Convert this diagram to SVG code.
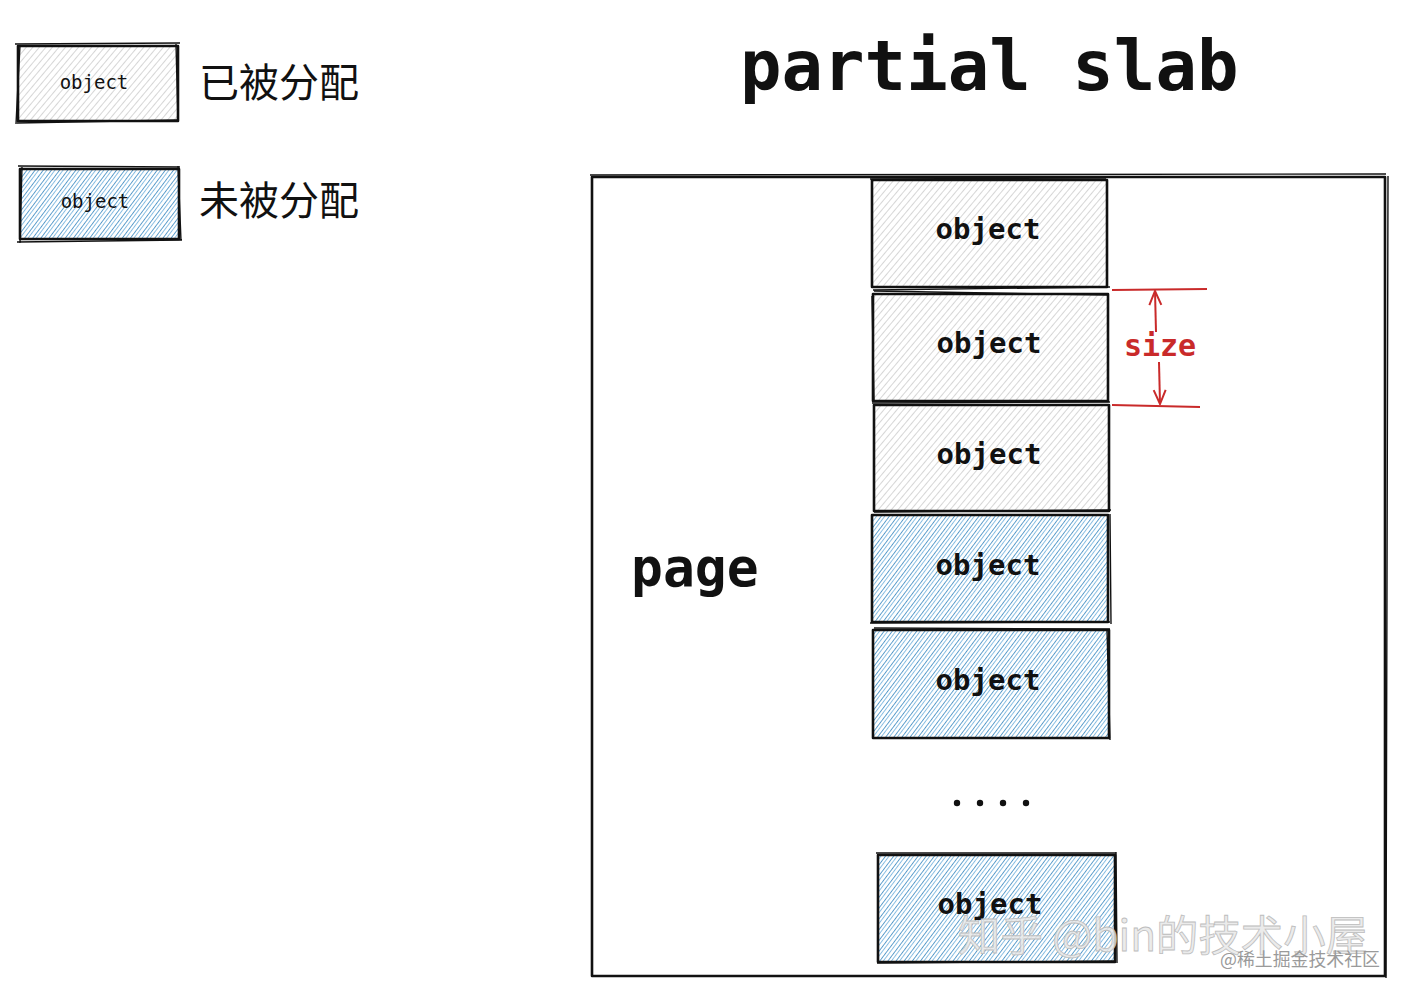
<svg xmlns="http://www.w3.org/2000/svg" width="1406" height="996" viewBox="0 0 1406 996">
<defs>
<pattern id="hg" width="5" height="5" patternUnits="userSpaceOnUse" patternTransform="rotate(40)">
<line x1="0" y1="0" x2="0" y2="5" stroke="#b4b4b4" stroke-width="1.1"/>
</pattern>
<pattern id="hb" width="6.5" height="6.5" patternUnits="userSpaceOnUse" patternTransform="rotate(37)">
<line x1="0" y1="0" x2="0" y2="6.5" stroke="#2f82bd" stroke-width="1.5"/>
<line x1="3.3" y1="0" x2="3.3" y2="6.5" stroke="#7db8e0" stroke-width="0.9"/>
</pattern>
<marker id="ar" viewBox="0 0 16 16" refX="15" refY="8" markerWidth="16" markerHeight="16" orient="auto" markerUnits="userSpaceOnUse">
<path d="M1,2 L15,8 L1,14" fill="none" stroke="#c92a2a" stroke-width="2"/>
</marker>
<style>
.box{stroke:#111;stroke-width:2.6;stroke-linejoin:round}
.edge{fill:none;stroke:#111;stroke-width:1.4}
.obj{font-family:"DejaVu Sans Mono","Liberation Mono",monospace;font-weight:bold;font-size:29px;fill:#111;text-anchor:middle}
.objs{font-family:"DejaVu Sans Mono","Liberation Mono",monospace;font-size:19px;fill:#111;text-anchor:middle}
.cjk{font-family:"Noto Sans CJK SC","Noto Sans",sans-serif;font-size:40px;fill:#111}
.red{stroke:#c92a2a;stroke-width:2;fill:none}
</style>
</defs>

<g id="legend-allocated">
<rect x="18" y="46" width="160" height="75" fill="url(#hg)" class="box"/>
<path class="edge" d="M15,44 L180,43 M17,123 L177,120 M20,45 L16,124 M176,44 L178,122"/>
<text x="94" y="89" class="objs">object</text>
<text x="199" y="97" class="cjk">已被分配</text>
</g>
<g id="legend-free">
<rect x="20" y="169" width="159" height="70" fill="url(#hb)" class="box"/>
<path class="edge" d="M18,166 L180,167 M17,242 L182,240 M22,166 L20,243 M178,166 L181,241"/>
<text x="95" y="208" class="objs">object</text>
<text x="199" y="215" class="cjk">未被分配</text>
</g>

<g id="title">
<text x="740" y="90" font-family="DejaVu Sans Mono,Liberation Mono,monospace" font-weight="bold" font-size="69" fill="#111">partial slab</text>
</g>

<g id="page">
<rect x="592" y="177" width="793" height="799" fill="none" class="box" stroke-width="2.4"/>
<path class="edge" d="M590,175 L1386,174 M1388,176 L1386,978"/>
<text x="631" y="586" font-family="DejaVu Sans Mono,Liberation Mono,monospace" font-weight="bold" font-size="53" fill="#111">page</text>
</g>

<g id="obj1">
<rect x="872" y="180" width="235" height="107" fill="url(#hg)" class="box"/>
<path class="edge" d="M870,179 L1106,178 M873,290 L1110,287"/>
<text x="988" y="239" class="obj">object</text>
</g>
<g id="obj2">
<rect x="873" y="294" width="235" height="107" fill="url(#hg)" class="box"/>
<path class="edge" d="M874,291 L1108,295 M872,296 L874,401"/>
<text x="989" y="353" class="obj">object</text>
</g>
<g id="obj3">
<rect x="874" y="405" width="235" height="106" fill="url(#hg)" class="box"/>
<path class="edge" d="M872,403 L1110,402 M874,512 L1111,510"/>
<text x="989" y="464" class="obj">object</text>
</g>
<g id="obj4">
<rect x="872" y="515" width="236" height="107" fill="url(#hb)" class="box"/>
<path class="edge" d="M870,623 L1110,622 M1110,514 L1111,624"/>
<text x="988" y="575" class="obj">object</text>
</g>
<g id="obj5">
<rect x="873" y="630" width="236" height="108" fill="url(#hb)" class="box"/>
<path class="edge" d="M874,628 L1110,629 M1107,630 L1110,740"/>
<text x="988" y="690" class="obj">object</text>
</g>
<g id="dots" fill="#111">
<circle cx="957" cy="803" r="3.2"/>
<circle cx="980" cy="803" r="3.2"/>
<circle cx="1003" cy="803" r="3.2"/>
<circle cx="1026" cy="803" r="3.2"/>
</g>
<g id="obj6">
<rect x="878" y="855" width="237" height="107" fill="url(#hb)" class="box"/>
<path class="edge" d="M876,853 L1116,853 M877,963 L1116,961 M1116,852 L1117,963"/>
<text x="990" y="914" class="obj">object</text>
</g>

<g id="connectors">
<path class="red" d="M1112,290 L1207,289"/>
<path class="red" d="M1112,405 L1200,407"/>
<path class="red" d="M1156,332 L1155,291" marker-end="url(#ar)"/>
<path class="red" d="M1159,362 L1160,404" marker-end="url(#ar)"/>
<text x="1160" y="356" font-family="DejaVu Sans Mono,Liberation Mono,monospace" font-weight="bold" font-size="30" fill="#c92a2a" text-anchor="middle">size</text>
</g>

<g id="watermark">
<text x="958" y="951" font-family="Noto Sans CJK SC,Noto Sans,sans-serif" font-size="42" fill="#e8e8e8" fill-opacity="0.85" stroke="#bdbdbd" stroke-width="0.8" textLength="410" lengthAdjust="spacingAndGlyphs">知乎 @bin的技术小屋</text>
<text x="1220" y="966" font-family="Noto Sans CJK SC,Noto Sans,sans-serif" font-size="18" fill="#9a9a9a" textLength="160" lengthAdjust="spacingAndGlyphs">@稀土掘金技术社区</text>
</g>
</svg>
